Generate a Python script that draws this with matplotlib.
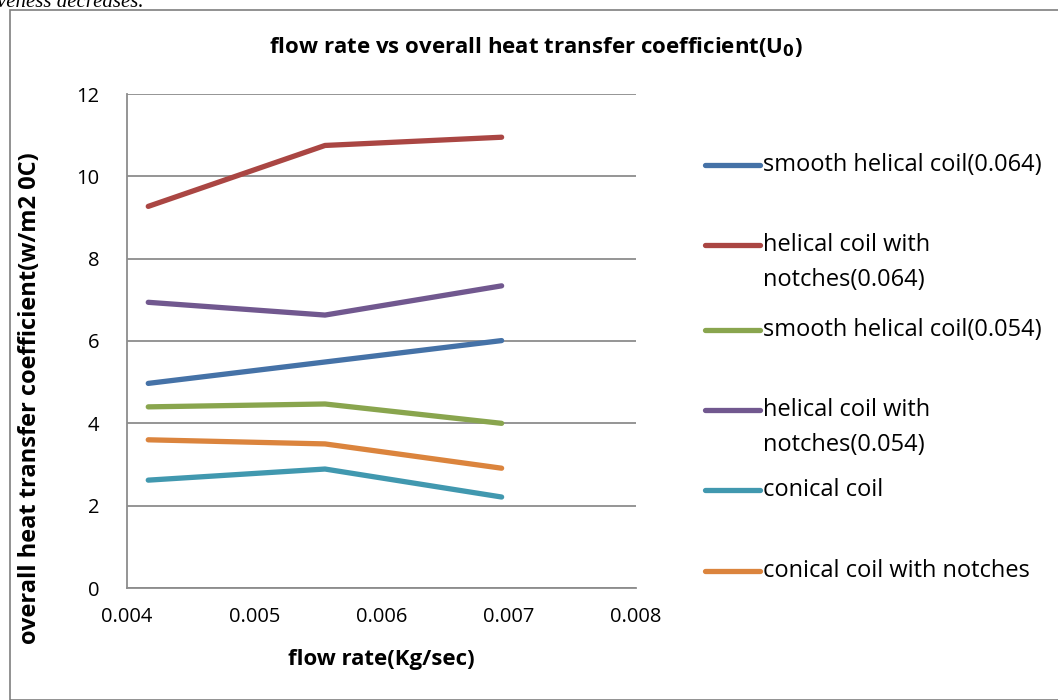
import matplotlib
matplotlib.use('Agg')
import matplotlib.pyplot as plt
from matplotlib.lines import Line2D
from matplotlib.patches import Rectangle

plt.rcParams['font.family'] = ['Open Sans', 'DejaVu Sans']

# data
flow_rate = [0.004167, 0.005556, 0.006944]
series_names = ['smooth helical coil(0.064)', 'helical coil with\nnotches(0.064)',
                'smooth helical coil(0.054)', 'helical coil with\nnotches(0.054)',
                'conical coil', 'conical coil with notches']
smooth_064 = [4.97, 5.49, 6.01]
notch_064 = [9.27, 10.75, 10.95]
smooth_054 = [4.40, 4.47, 4.00]
notch_054 = [6.94, 6.63, 7.34]
conical = [2.62, 2.89, 2.21]
conical_notch = [3.60, 3.50, 2.91]
colors = ['#4572A7', '#AA4643', '#89A54E', '#71588F', '#4198AF', '#DB843D']
x_ticks = [0.004, 0.005, 0.006, 0.007, 0.008]
x_ticklabels = ['0.004', '0.005', '0.006', '0.007', '0.008']
y_ticks = [0, 2, 4, 6, 8, 10, 12]

values = [smooth_064, notch_064, smooth_054, notch_054, conical, conical_notch]

fig = plt.figure(figsize=(10.58, 7.0), dpi=100)

# chart frame (the picture was cut out of a page)
fig.add_artist(Rectangle((10 / 1058, 0), 1.2, (690 / 700), transform=fig.transFigure,
                         facecolor='none', edgecolor='#7f7f7f', linewidth=1.2))
fig.text(-0.003, 0.996, 'veness decreases.', family=['Liberation Serif'], fontsize=15,
         style='italic', va='center', ha='left')

ax = fig.add_axes([127 / 1058, 1 - 588 / 700, (636 - 127) / 1058, (588 - 94) / 700])
for vals, c in zip(values, colors):
    ax.plot(flow_rate, vals, color=c, linewidth=3.8, solid_capstyle='round',
            solid_joinstyle='round', zorder=3)

ax.set_xlim(0.004, 0.008)
ax.set_ylim(0, 12)
ax.set_xticks(x_ticks)
ax.set_xticklabels(x_ticklabels)
ax.set_yticks(y_ticks)
ax.grid(axis='y', color='#8c8c8c', linewidth=1.3)
ax.set_axisbelow(True)
for s in ['top', 'right']:
    ax.spines[s].set_visible(False)
for s in ['left', 'bottom']:
    ax.spines[s].set_color('#8c8c8c')
    ax.spines[s].set_linewidth(1.3)
ax.tick_params(axis='both', labelcolor='black', labelsize=14.5, length=0)
ax.tick_params(axis='x', pad=14)
ax.tick_params(axis='y', pad=20)

ax.set_xlabel('flow rate(Kg/sec)', fontsize=16, fontweight='bold', va='center')
ax.xaxis.set_label_coords(0.5, -(660 - 588) / 494)
ax.set_ylabel('overall heat transfer coefficient(w/m2 0C)', fontsize=17,
              fontweight='bold', va='center')
ax.yaxis.set_label_coords(-(127 - 30) / 509, (588 - 398) / 494)
fig.text(536 / 1058, 1 - 47 / 700, r'flow rate vs overall heat transfer coefficient(U$_\mathbf{0}$)',
         ha='center', va='center', fontsize=16, fontweight='bold')

# legend drawn by hand to match the uneven spacing
rows = [165, 245, 330, 410, 490, 571]
for name, c, yy in zip(series_names, colors, rows):
    yf = 1 - yy / 700
    fig.add_artist(Line2D([705 / 1058, 760 / 1058], [yf, yf], transform=fig.transFigure,
                          color=c, linewidth=3.8, solid_capstyle='round'))
    for i, part in enumerate(name.split('\n')):
        fig.text(763 / 1058, 1 - (yy + 35 * i) / 700, part, ha='left', va='center',
                 fontsize=17)

fig.savefig('out.png', dpi=100)
